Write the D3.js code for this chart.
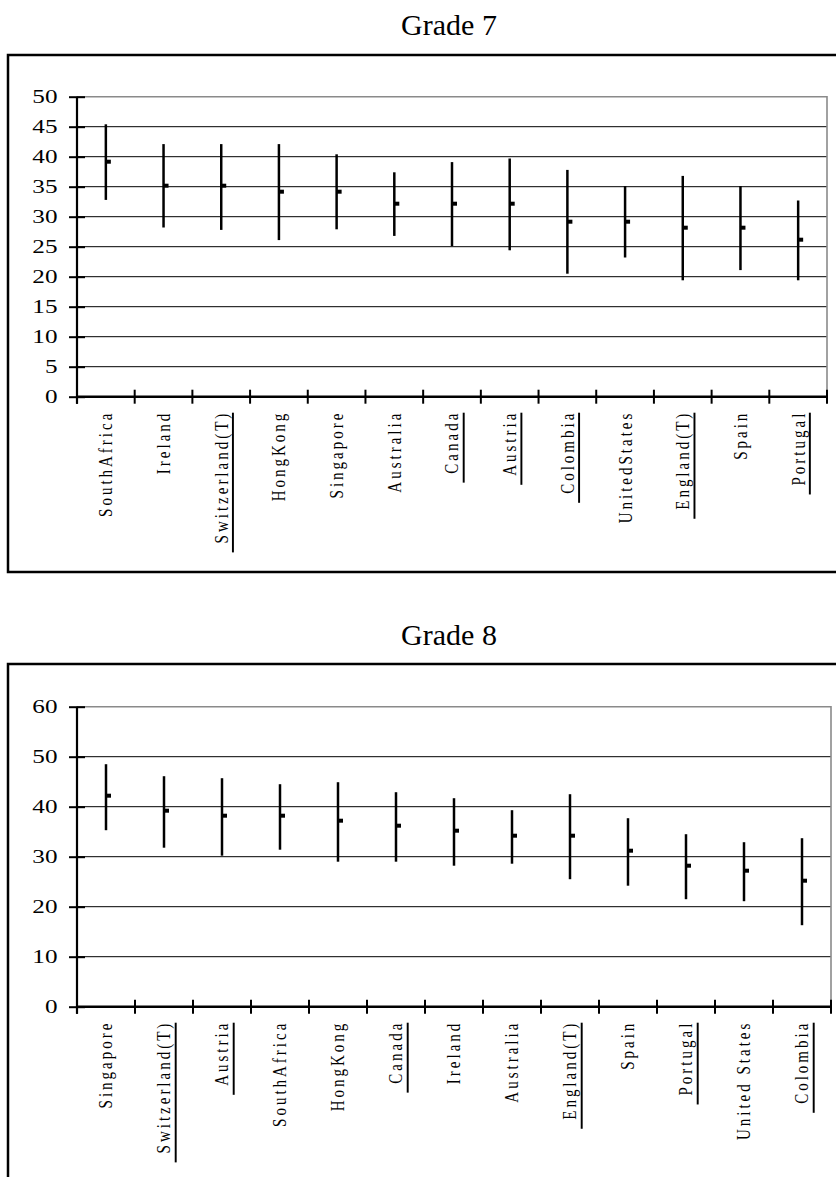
<!DOCTYPE html>
<html>
<head>
<meta charset="utf-8">
<script src="https://cdn.jsdelivr.net/npm/d3@7/dist/d3.min.js"></script>
<style>
  html, body { margin: 0; padding: 0; background: #fff; }
  svg { display: block; }
  svg text { font-family: 'Liberation Serif', 'DejaVu Serif', serif !important; fill: #000; }
</style>
</head>
<body>
<svg id="chart" width="836" height="1177"></svg>
<script>
// Grade 7: country ranges (high / low) and mean scores
const grade7Countries = ["SouthAfrica", "Ireland", "Switzerland(T)", "HongKong", "Singapore", "Australia",
  "Canada", "Austria", "Colombia", "UnitedStates", "England(T)", "Spain", "Portugal"];
const grade7High = [45.4, 42.1, 42.1, 42.1, 40.4, 37.4, 39.1, 39.7, 37.8, 35.1, 36.8, 35.1, 32.7];
const grade7Low  = [32.8, 28.2, 27.8, 26.1, 27.9, 26.8, 25.1, 24.4, 20.5, 23.2, 19.4, 21.1, 19.4];
const grade7Mean = [39, 35, 35, 34, 34, 32, 32, 32, 29, 29, 28, 28, 26];
const grade7Ticks = [0, 5, 10, 15, 20, 25, 30, 35, 40, 45, 50];
const grade7Underlined = ["Switzerland(T)", "Canada", "Austria", "Colombia", "England(T)", "Portugal"];

// Grade 8
const grade8Countries = ["Singapore", "Switzerland(T)", "Austria", "SouthAfrica", "HongKong", "Canada",
  "Ireland", "Australia", "England(T)", "Spain", "Portugal", "United States", "Colombia"];
const grade8High = [48.5, 46.1, 45.7, 44.5, 44.9, 42.9, 41.7, 39.3, 42.5, 37.7, 34.5, 32.9, 33.7];
const grade8Low  = [35.3, 31.8, 30.2, 31.4, 29.0, 29.0, 28.2, 28.6, 25.5, 24.2, 21.5, 21.1, 16.3];
const grade8Mean = [42, 39, 38, 38, 37, 36, 35, 34, 34, 31, 28, 27, 25];
const grade8Ticks = [0, 10, 20, 30, 40, 50, 60];
const grade8Underlined = ["Switzerland(T)", "Austria", "Canada", "England(T)", "Portugal", "Colombia"];

const SERIF = "'Liberation Serif', 'DejaVu Serif', serif";
const svg = d3.select("#chart");

function drawPanel(cfg) {
  const g = svg.append("g");
  const plotLeft = 77;

  // title
  g.append("text")
    .attr("x", 449).attr("y", cfg.titleBaseline)
    .attr("text-anchor", "middle")
    .attr("font-family", SERIF)
    .attr("font-size", 30)
    .text(cfg.title);

  // chart frame (runs off the right edge of the page)
  g.append("rect")
    .attr("x", 8).attr("y", cfg.boxTop)
    .attr("width", 900).attr("height", cfg.boxHeight)
    .attr("fill", "none").attr("stroke", "#000").attr("stroke-width", 2.5);

  const x = d3.scaleBand().domain(cfg.cats).range([plotLeft, cfg.plotRight]).padding(0);
  const y = d3.scaleLinear().domain([0, d3.max(cfg.ticks)]).range([cfg.plotBottom, cfg.plotTop]);
  const yMax = d3.max(cfg.ticks);

  // gridlines
  g.append("g").selectAll("line")
    .data(cfg.ticks.filter(t => t > 0 && t < yMax))
    .join("line")
    .attr("x1", plotLeft).attr("x2", cfg.plotRight)
    .attr("y1", d => y(d)).attr("y2", d => y(d))
    .attr("stroke", "#000").attr("stroke-width", 1);

  // plot-area border (top and right), grey
  g.append("path")
    .attr("d", `M${plotLeft},${y(yMax)}H${cfg.plotRight}V${y(0)}`)
    .attr("fill", "none").attr("stroke", "#8a8a8a").attr("stroke-width", 1.6);

  // y axis with crossing ticks
  const yAxis = g.append("g")
    .attr("transform", `translate(${plotLeft},0)`)
    .call(d3.axisLeft(y).tickValues(cfg.ticks).tickSize(8).tickSizeOuter(0));
  yAxis.attr("font-family", SERIF);
  yAxis.select(".domain").remove();
  yAxis.append("line")
    .attr("x1", 0).attr("x2", 0)
    .attr("y1", y(yMax)).attr("y2", y(0) + 7)
    .attr("stroke", "#000").attr("stroke-width", 2.2);
  yAxis.selectAll(".tick line").attr("x1", 8).attr("stroke-width", 2);
  yAxis.selectAll(".tick text")
    .attr("x", 0)
    .attr("transform", "translate(-19.5,0) scale(1.4,1)")
    .attr("font-family", SERIF)
    .attr("font-size", 18)
    .attr("fill", "#000");

  // x axis line with ticks at category boundaries
  const y0 = y(0);
  g.append("line")
    .attr("x1", plotLeft).attr("x2", cfg.plotRight)
    .attr("y1", y0).attr("y2", y0)
    .attr("stroke", "#000").attr("stroke-width", 2.5);
  const bounds = cfg.cats.map(c => x(c)).concat([x.range()[1]]);
  g.append("g").selectAll("line")
    .data(bounds)
    .join("line")
    .attr("x1", d => d).attr("x2", d => d)
    .attr("y1", y0 - 7).attr("y2", y0 + 7)
    .attr("stroke", "#000").attr("stroke-width", 2);

  const bw = x.bandwidth();
  const rows = cfg.cats.map((c, i) => ({ c, hi: cfg.high[i], lo: cfg.low[i], mean: cfg.mean[i] }));

  // high-low whiskers
  g.append("g").selectAll("line")
    .data(rows)
    .join("line")
    .attr("x1", d => x(d.c) + bw / 2).attr("x2", d => x(d.c) + bw / 2)
    .attr("y1", d => y(d.hi)).attr("y2", d => y(d.lo))
    .attr("stroke", "#000").attr("stroke-width", 2.5);

  // mean markers
  g.append("g").selectAll("rect")
    .data(rows)
    .join("rect")
    .attr("x", d => x(d.c) + bw / 2)
    .attr("y", d => y(d.mean) - 3)
    .attr("width", 5).attr("height", 4)
    .attr("fill", "#000");

  // rotated category labels
  const labels = g.append("g").selectAll("g")
    .data(cfg.cats)
    .join("g")
    .attr("transform", d => `translate(${x(d) + bw / 2},${y0 + 14}) scale(1.3,1) rotate(-90)`);
  labels.append("text")
    .attr("text-anchor", "end")
    .attr("dy", "0.33em")
    .attr("font-family", SERIF)
    .attr("font-size", 15)
    .attr("letter-spacing", 3)
    .text(d => d);
  labels.filter(d => cfg.underlined.includes(d))
    .each(function () {
      const grp = d3.select(this);
      const bb = grp.select("text").node().getBBox();
      grp.append("line")
        .attr("x1", bb.x - 9).attr("x2", bb.x + bb.width - 2)
        .attr("y1", 9).attr("y2", 9)
        .attr("stroke", "#000").attr("stroke-width", 1.5);
    });
}

drawPanel({
  title: "Grade 7", titleBaseline: 35,
  boxTop: 55, boxHeight: 517,
  plotTop: 96.7, plotBottom: 396.7, plotRight: 827,
  cats: grade7Countries, high: grade7High, low: grade7Low, mean: grade7Mean,
  ticks: grade7Ticks, underlined: grade7Underlined
});

drawPanel({
  title: "Grade 8", titleBaseline: 645,
  boxTop: 664, boxHeight: 600,
  plotTop: 706.7, plotBottom: 1006.7, plotRight: 831,
  cats: grade8Countries, high: grade8High, low: grade8Low, mean: grade8Mean,
  ticks: grade8Ticks, underlined: grade8Underlined
});
</script>
</body>
</html>
